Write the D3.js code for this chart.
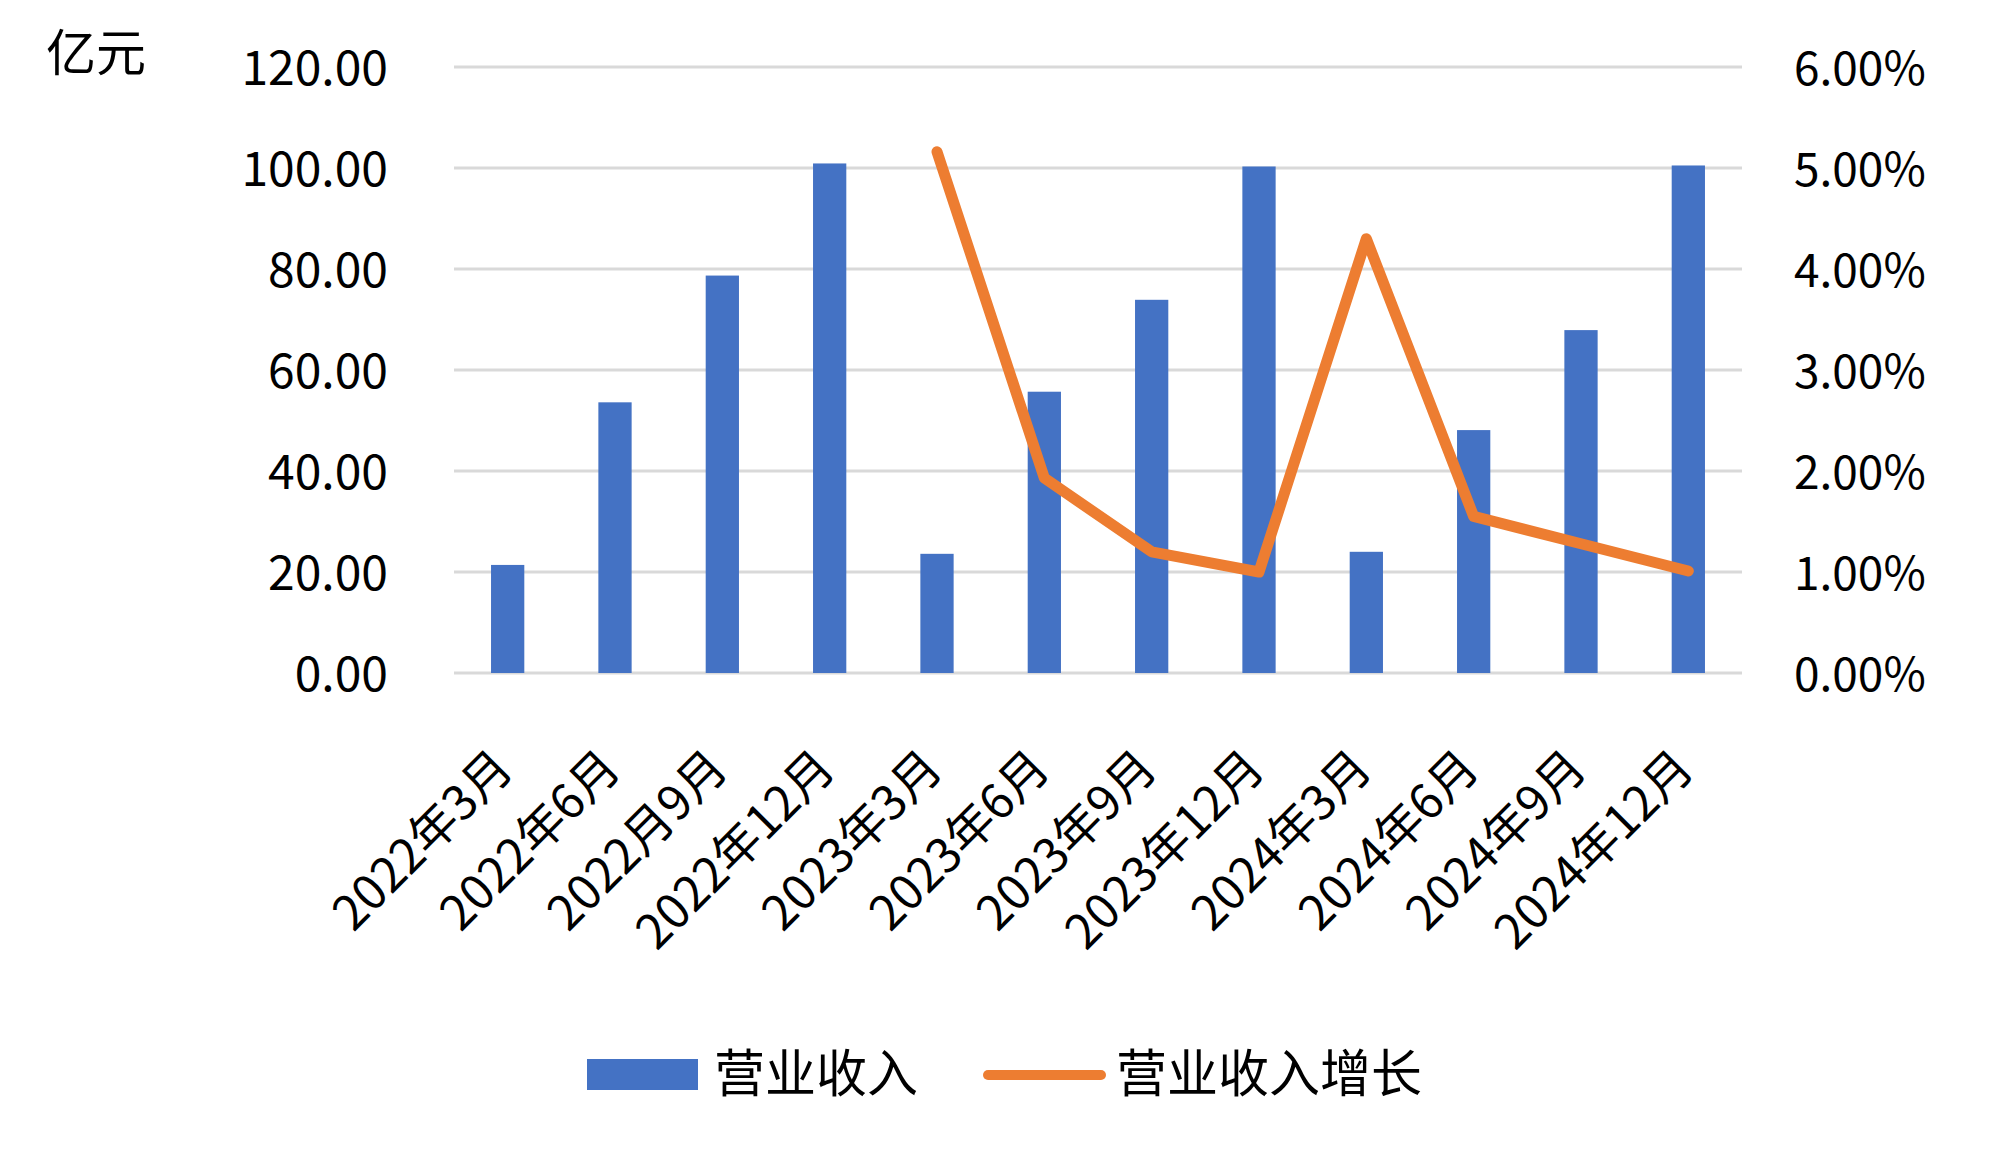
<!DOCTYPE html>
<html>
<head>
<meta charset="utf-8">
<script src="https://cdn.jsdelivr.net/npm/d3@7/dist/d3.min.js"></script>
<style>
  html, body { margin: 0; padding: 0; background: #ffffff; }
  svg { display: block; }
  text { font-family: "Noto Sans CJK SC", "Noto Sans", sans-serif; fill: #000000; }
</style>
</head>
<body>
<svg id="chart" width="2000" height="1168"></svg>
<script>
// ---- data ----
const categories = ["2022年3月", "2022年6月", "2022月9月", "2022年12月", "2023年3月", "2023年6月",
                    "2023年9月", "2023年12月", "2024年3月", "2024年6月", "2024年9月", "2024年12月"];
const revenue = [21.4, 53.6, 78.7, 100.9, 23.6, 55.7, 73.9, 100.3, 24.0, 48.1, 67.9, 100.5];
const growth = [null, null, null, null, 5.16, 1.93, 1.20, 1.00, 4.30, 1.55, 1.28, 1.01]; // percent
const leftTicks = [0, 20, 40, 60, 80, 100, 120];
const rightTicks = [0, 1, 2, 3, 4, 5, 6];
const seriesNames = ["营业收入", "营业收入增长"];
const unitLabel = "亿元";

// ---- layout ----
const plot = { left: 454, right: 1742, top: 67, bottom: 673 };
const colors = { bar: "#4472C4", line: "#ED7D31", grid: "#D9D9D9" };

const svg = d3.select("#chart");

const x = d3.scaleBand().domain(categories).range([plot.left, plot.right]).paddingInner(0.69).paddingOuter(0.345);
const xc = d3.scaleBand().domain(categories).range([plot.left, plot.right]);
const yL = d3.scaleLinear().domain([0, 120]).range([plot.bottom, plot.top]);
const yR = d3.scaleLinear().domain([0, 6]).range([plot.bottom, plot.top]);

// gridlines
svg.append("g").selectAll("line").data(leftTicks).join("line")
  .attr("x1", plot.left).attr("x2", plot.right)
  .attr("y1", d => yL(d)).attr("y2", d => yL(d))
  .attr("stroke", colors.grid).attr("stroke-width", 3);

// left axis
const axL = d3.axisLeft(yL).tickValues(leftTicks).tickSize(0).tickPadding(0).tickFormat(d => d3.format(".2f")(d));
const gL = svg.append("g").attr("transform", `translate(${plot.left - 66},0)`).call(axL);
gL.select(".domain").remove();
gL.selectAll("text").attr("font-size", 48).attr("font-family", "Noto Sans CJK SC").attr("fill", "#000").attr("dy", "0.36em");

// right axis
const axR = d3.axisRight(yR).tickValues(rightTicks).tickSize(0).tickPadding(0).tickFormat(d => d3.format(".2f")(d) + "%");
const gR = svg.append("g").attr("transform", `translate(${plot.right + 52},0)`).call(axR);
gR.select(".domain").remove();
gR.selectAll("text").attr("font-size", 46).attr("font-family", "Noto Sans CJK SC").attr("fill", "#000").attr("dy", "0.37em");

// unit label
svg.append("text").attr("x", 46).attr("y", 71).attr("font-size", 50).text(unitLabel);

// bars
svg.append("g").selectAll("rect").data(revenue).join("rect")
  .attr("x", (d, i) => x(categories[i]))
  .attr("width", x.bandwidth())
  .attr("y", d => yL(d))
  .attr("height", d => yL(0) - yL(d))
  .attr("fill", colors.bar);

// line
const line = d3.line()
  .defined(d => d != null)
  .x((d, i) => xc(categories[i]) + xc.bandwidth() / 2)
  .y(d => yR(d));
svg.append("path").datum(growth)
  .attr("d", line)
  .attr("fill", "none").attr("stroke", colors.line).attr("stroke-width", 11)
  .attr("stroke-linejoin", "round").attr("stroke-linecap", "round");

// category labels (rotated)
svg.append("g").selectAll("text").data(categories).join("text")
  .attr("transform", d => `translate(${xc(d) + xc.bandwidth() / 2 - 4},${plot.bottom + 86}) rotate(-45)`)
  .attr("text-anchor", "end")
  .attr("dy", "0.35em")
  .attr("font-size", 48)
  .text(d => d);

// legend
const lg = svg.append("g");
lg.append("rect").attr("x", 587).attr("y", 1059).attr("width", 111).attr("height", 31).attr("fill", colors.bar);
lg.append("text").attr("x", 714).attr("y", 1092).attr("font-size", 51).text(seriesNames[0]);
lg.append("line").attr("x1", 988).attr("x2", 1101).attr("y1", 1075).attr("y2", 1075)
  .attr("stroke", colors.line).attr("stroke-width", 10).attr("stroke-linecap", "round");
lg.append("text").attr("x", 1116).attr("y", 1092).attr("font-size", 51).text(seriesNames[1]);
</script>
</body>
</html>
